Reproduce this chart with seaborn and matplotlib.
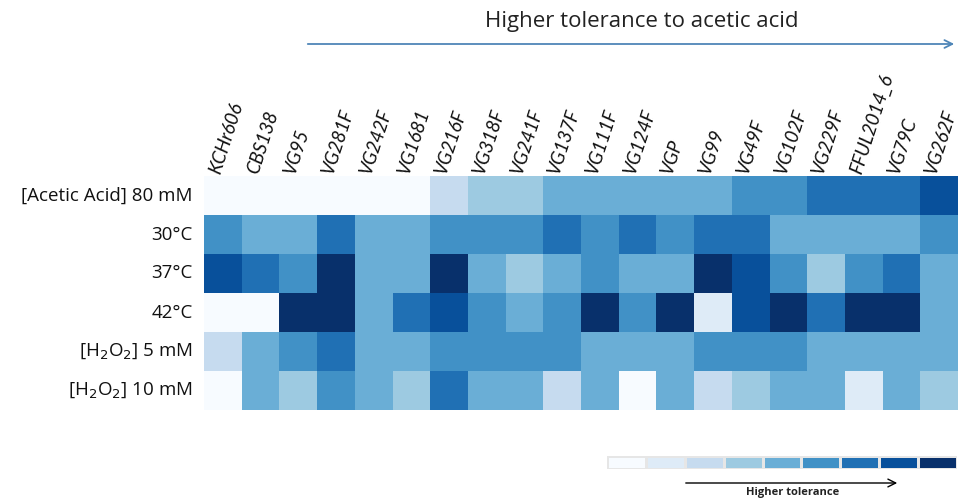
import numpy as np
import pandas as pd
import matplotlib
matplotlib.use("Agg")
import matplotlib.pyplot as plt
from matplotlib.colors import ListedColormap
import matplotlib.transforms as mtransforms
import seaborn as sns

strains = ["KCHr606", "CBS138", "VG95", "VG281F", "VG242F", "VG1681", "VG216F",
           "VG318F", "VG241F", "VG137F", "VG111F", "VG124F", "VGP", "VG99",
           "VG49F", "VG102F", "VG229F", "FFUL2014_6", "VG79C", "VG262F"]
conditions = ["[Acetic Acid] 80 mM", "30°C", "37°C", "42°C",
              "[H$_2$O$_2$] 5 mM", "[H$_2$O$_2$] 10 mM"]

acetic_80 = [0, 0, 0, 0, 0, 0, 2, 3, 3, 4, 4, 4, 4, 4, 5, 5, 6, 6, 6, 7]
temp_30 = [5, 4, 4, 6, 4, 4, 5, 5, 5, 6, 5, 6, 5, 6, 6, 4, 4, 4, 4, 5]
temp_37 = [7, 6, 5, 8, 4, 4, 8, 4, 3, 4, 5, 4, 4, 8, 7, 5, 3, 5, 6, 4]
temp_42 = [0, 0, 8, 8, 4, 6, 7, 5, 4, 5, 8, 5, 8, 1, 7, 8, 6, 8, 8, 4]
h2o2_5 = [2, 4, 5, 6, 4, 4, 5, 5, 5, 5, 4, 4, 4, 5, 5, 5, 4, 4, 4, 4]
h2o2_10 = [0, 4, 3, 5, 4, 3, 6, 4, 4, 2, 4, 0, 4, 2, 3, 4, 4, 1, 4, 3]

legend_levels = [0, 1, 2, 3, 4, 5, 6, 7, 8]

df = pd.DataFrame([acetic_80, temp_30, temp_37, temp_42, h2o2_5, h2o2_10],
                  index=conditions, columns=strains)

cmap = ListedColormap([plt.cm.Blues(i / 8) for i in range(9)])

sns.set_theme(style="white")
plt.rcParams["font.family"] = ["Open Sans", "DejaVu Sans"]

fig = plt.figure(figsize=(9.6, 4.99), dpi=100)
ax = fig.add_axes([204 / 960, 1 - 410 / 499, 754 / 960, 234 / 499])
sns.heatmap(df, ax=ax, cmap=cmap, vmin=-0.5, vmax=8.5, cbar=False,
            linewidths=0, square=False, xticklabels=False)
ax.tick_params(axis="y", pad=8, length=0)
ax.set_yticklabels(conditions, rotation=0, fontsize=13.5, color="#111111")
ax.set_xlabel("")
ax.set_ylabel("")

# Column labels placed above the top edge of the heatmap
shift = mtransforms.ScaledTranslation(-0.08, 0.03, fig.dpi_scale_trans)
for i, name in enumerate(strains):
    ax.text(i + 0.5, 0, name, transform=ax.transData + shift,
            rotation=72, ha="left", va="center", rotation_mode="anchor",
            fontsize=13.5, style="italic", family=["Lato", "DejaVu Sans"],
            color="#111111", clip_on=False)

# Title and arrow
fig.text(642 / 960, 1 - 22 / 499, "Higher tolerance to acetic acid",
         ha="center", va="center", fontsize=16, color="#222222")
fig.add_artist(matplotlib.patches.FancyArrowPatch(
    (305 / 960, 1 - 44 / 499), (957 / 960, 1 - 44 / 499),
    transform=fig.transFigure, arrowstyle="->", mutation_scale=14,
    color="#4f86b8", lw=1.3))

# Legend bar
lax = fig.add_axes([607 / 960, 1 - 469 / 499, 350 / 960, 13 / 499])
sns.heatmap(pd.DataFrame([legend_levels]), ax=lax, cmap=cmap, vmin=-0.5,
            vmax=8.5, cbar=False, linewidths=1, linecolor="#e6e6e6",
            xticklabels=False, yticklabels=False)
fig.add_artist(matplotlib.patches.FancyArrowPatch(
    (683 / 960, 1 - 483 / 499), (900 / 960, 1 - 483 / 499),
    transform=fig.transFigure, arrowstyle="->", mutation_scale=14,
    color="black", lw=1.0))
fig.text(793 / 960, 1 - 493 / 499, "Higher tolerance", ha="center",
         va="center", fontsize=8, fontweight="bold", color="#222222")

fig.savefig("out.png", dpi=100)
